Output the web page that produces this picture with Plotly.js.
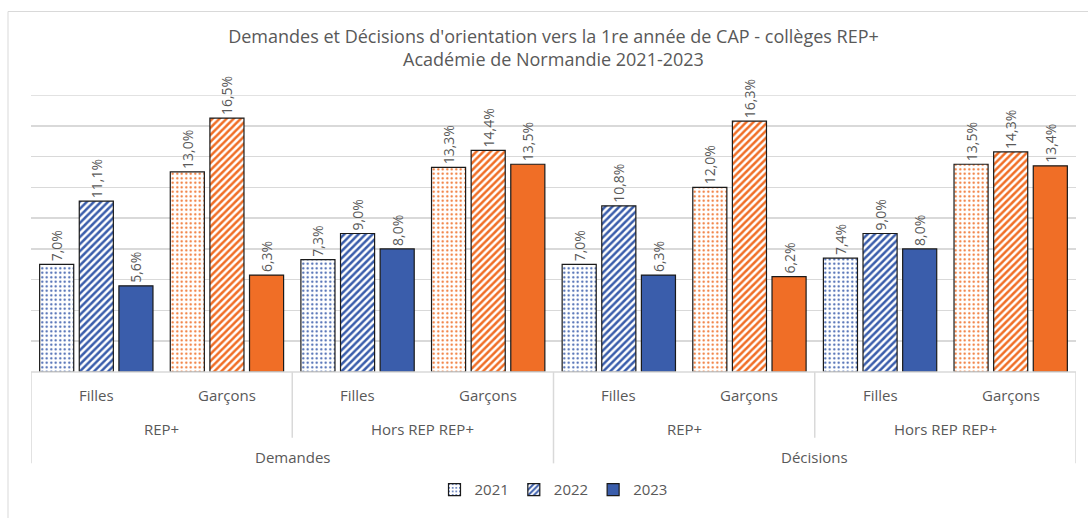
<!DOCTYPE html>
<html>
<head>
<meta charset="utf-8">
<script src="https://cdn.plot.ly/plotly-3.0.1.min.js"></script>
<style>
  html, body { margin: 0; padding: 0; background: #fff; }
  #plot { width: 1088px; height: 518px; }
</style>
</head>
<body>
<div id="plot"></div>
<script>
// données
const sexes = ['Filles', 'Garçons', 'Filles', 'Garçons', 'Filles', 'Garçons', 'Filles', 'Garçons'];
const zones = ['REP+', 'Hors REP REP+', 'REP+', 'Hors REP REP+'];
const phases = ['Demandes', 'Décisions'];
const years = ['2021', '2022', '2023'];
const v2021 = [7.0, 13.0, 7.3, 13.3, 7.0, 12.0, 7.4, 13.5];
const v2022 = [11.1, 16.5, 9.0, 14.4, 10.8, 16.3, 9.0, 14.3];
const v2023 = [5.6, 6.3, 8.0, 13.5, 6.3, 6.2, 8.0, 13.4];

const BLUE = '#3A5DAB';
const ORANGE = '#F06E26';
const GREY = '#595959';
const LINE = '#d9d9d9';

const W = 1088, H = 518;
const mL = 31, mR = 12, mT = 95, mB = 141;
const plotH = H - mT - mB;
const plotW = W - mL - mR;
// pixel -> paper
const py = p => (H - mB - p) / plotH;
const px = p => (p - mL) / plotW;

const xs = sexes.map((_, i) => i);
const colors = sexes.map(s => s === 'Filles' ? BLUE : ORANGE);

function makeTrace(name, values, shape) {
    const t = {
        type: 'bar',
        name: name,
        x: xs,
        y: values,
        texttemplate: '%{y:.1f}%',
        textposition: 'outside',
        textangle: -90,
        constraintext: 'none',
        cliponaxis: false,
        textfont: { family: 'Open Sans', size: 14, color: GREY },
        hoverinfo: 'skip',
        marker: {
            color: shape ? 'white' : colors,
            line: { color: '#1a1a1a', width: 1.2 }
        }
    };
    if (shape) {
        t.marker.pattern = {
            shape: shape,
            fgcolor: colors,
            bgcolor: 'white',
            fillmode: 'replace',
            size: shape === '.' ? 4.5 : 5,
            solidity: shape === '.' ? 0.18 : 0.5
        };
    }
    return t;
}

const traces = [
    makeTrace(years[0], v2021, '.'),
    makeTrace(years[1], v2022, '/'),
    makeTrace(years[2], v2023, null)
];

// étiquettes de l'axe à trois niveaux
const annotations = [];
const labelFont = { family: 'Open Sans', size: 15, color: GREY };
sexes.forEach((s, i) => {
    annotations.push({ x: i, y: py(400), xref: 'x', yref: 'paper', yanchor: 'middle', text: s, showarrow: false, font: labelFont });
});
zones.forEach((z, i) => {
    annotations.push({ x: 2 * i + 0.5, y: py(435), xref: 'x', yref: 'paper', yanchor: 'middle', text: z, showarrow: false, font: labelFont });
});
phases.forEach((p, i) => {
    annotations.push({ x: 4 * i + 1.5, y: py(464), xref: 'x', yref: 'paper', yanchor: 'middle', text: p, showarrow: false, font: labelFont });
});

const shapes = [
    // cadre du graphique
    { type: 'rect', xref: 'paper', yref: 'paper', x0: px(8), x1: px(1100), y0: py(10), y1: py(540),
      line: { color: LINE, width: 1 }, fillcolor: 'rgba(0,0,0,0)', layer: 'below' },
    // ligne de grille du haut
    { type: 'line', xref: 'paper', yref: 'y', x0: 0, x1: 1, y0: 18, y1: 18, line: { color: LINE, width: 1.5 }, layer: 'below' },
    // ligne de base
    { type: 'line', xref: 'x', yref: 'paper', x0: -0.5, x1: 7.5, y0: 0, y1: 0, line: { color: LINE, width: 1.5 } }
];
[-0.5, 3.5, 7.5].forEach(x => {
    shapes.push({ type: 'line', xref: 'x', yref: 'paper', x0: x, x1: x, y0: 0, y1: py(470), line: { color: LINE, width: 1.5 } });
});
[1.5, 5.5].forEach(x => {
    shapes.push({ type: 'line', xref: 'x', yref: 'paper', x0: x, x1: x, y0: 0, y1: py(444), line: { color: LINE, width: 1.5 } });
});

const layout = {
    width: W,
    height: H,
    margin: { l: mL, r: mR, t: mT, b: mB, pad: 0 },
    paper_bgcolor: 'white',
    plot_bgcolor: 'white',
    separators: ', ',
    font: { family: 'Open Sans', color: GREY },
    title: {
        text: "Demandes et Décisions d'orientation vers la 1re année de CAP - collèges REP+<br>Académie de Normandie 2021-2023",
        font: { family: 'Open Sans', size: 18, color: GREY },
        x: 0.5, xref: 'paper', xanchor: 'center',
        y: 1 - 43 / H, yanchor: 'middle'
    },
    barmode: 'group',
    bargap: 0.09,
    bargroupgap: 0.14,
    xaxis: {
        range: [-0.5, 7.5],
        showticklabels: false,
        showgrid: false,
        zeroline: false,
        showline: false,
        ticks: '',
        fixedrange: true
    },
    yaxis: {
        range: [0, 18],
        dtick: 2,
        showticklabels: false,
        gridcolor: LINE,
        gridwidth: 1.5,
        zeroline: false,
        showline: false,
        ticks: '',
        fixedrange: true
    },
    showlegend: true,
    legend: {
        orientation: 'h',
        x: 0.5, xanchor: 'center',
        y: py(497), yanchor: 'middle',
        font: { family: 'Open Sans', size: 15, color: GREY },
        itemwidth: 30,
        traceorder: 'normal'
    },
    annotations: annotations,
    shapes: shapes
};

Plotly.newPlot('plot', traces, layout, { displayModeBar: false, staticPlot: true });
</script>
</body>
</html>
